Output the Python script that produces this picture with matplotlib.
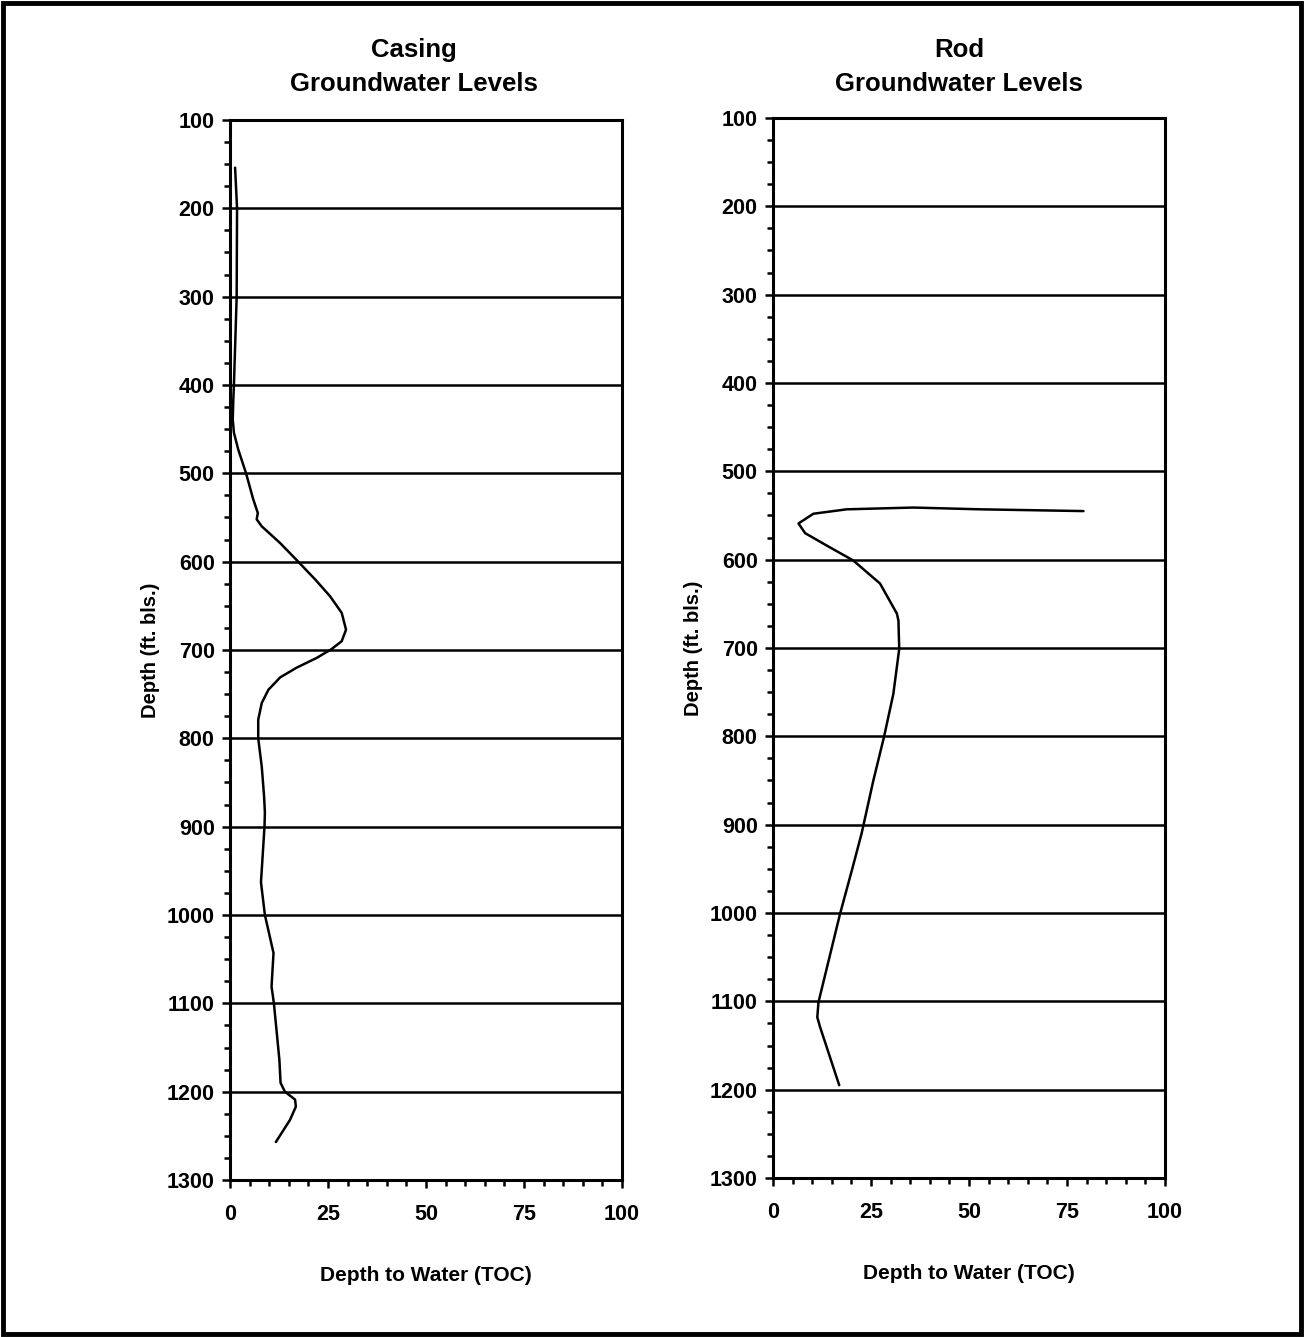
import matplotlib
matplotlib.use("Agg")
import matplotlib.pyplot as plt
from matplotlib.patches import Rectangle
from matplotlib.ticker import MultipleLocator

plt.rcParams["font.family"] = ["Liberation Sans", "DejaVu Sans"]
plt.rcParams["font.weight"] = "bold"

# Casing readings: depth to water (TOC) vs depth (ft. bls.)
casing_water = [1.3, 1.8, 1.7, 1.0, 0.85, 0.7, 1.0, 2.1, 4.1, 5.9, 7.1, 6.8, 8.1,
                12.8, 17.4, 21.7, 25.5, 28.5, 29.6, 28.5, 25.9, 22.1, 17.0, 12.8,
                9.8, 8.1, 7.2, 7.2, 8.1, 8.7, 8.9, 8.8, 7.9, 8.9, 11.1, 10.6,
                11.2, 12.6, 12.9, 14.0, 16.6, 16.8, 15.3, 11.7]
casing_depth = [154, 200, 300, 400, 416, 439, 454, 473, 500, 529, 545, 552, 560,
                579, 600, 620, 639, 658, 677, 690, 699, 709, 720, 731,
                745, 760, 779, 800, 832, 866, 884, 900, 963, 1000, 1043, 1081,
                1100, 1164, 1190, 1200, 1209, 1217, 1232, 1257]

# Rod readings
rod_water = [79.2, 52.8, 35.8, 18.8, 10.3, 6.5, 8.2, 13.7, 20.5, 27.3, 31.6,
             32.0, 32.2, 30.7, 28.3, 25.6, 22.6, 20.1, 17.1, 11.6, 11.3, 12.0, 16.9]
rod_depth = [545, 543, 541, 543, 548, 559, 570, 584, 601, 627, 661,
             669, 701, 752, 801, 850, 910, 952, 1001, 1101, 1118, 1129, 1195]

depth_ticks = list(range(100, 1301, 100))
water_ticks = [0, 25, 50, 75, 100]

W, H = 1304, 1337
fig = plt.figure(figsize=(W / 100, H / 100), dpi=100)

panels = [
    ("Casing\nGroundwater Levels", casing_water, casing_depth, 230, 1180, 414),
    ("Rod\nGroundwater Levels", rod_water, rod_depth, 773, 1178, 959),
]

for title, xs, ys, left_px, bottom_px, title_x in panels:
    ax = fig.add_axes([left_px / W, (H - bottom_px) / H, 392 / W, 1060 / H])
    ax.plot(xs, ys, color="black", lw=1.8, solid_joinstyle="round",
            solid_capstyle="round")
    ax.set_xlim(0, 100)
    ax.set_ylim(1300, 100)
    ax.set_yticks(depth_ticks)
    ax.set_xticks(water_ticks)
    ax.yaxis.set_minor_locator(MultipleLocator(25))
    ax.xaxis.set_minor_locator(MultipleLocator(5))
    ax.grid(axis="y", which="major", color="black", lw=1.8)
    ax.tick_params(which="major", direction="out", length=6, width=1.8,
                   labelsize=15.5, pad=5)
    ax.tick_params(axis="x", which="major", pad=11)
    ax.tick_params(which="minor", direction="out", length=4.5, width=1.8)
    for s in ax.spines.values():
        s.set_linewidth(2.2)
    for lab in ax.get_xticklabels() + ax.get_yticklabels():
        lab.set_fontweight("bold")
    ax.set_ylabel("Depth (ft. bls.)", fontsize=14.5, fontweight="bold", labelpad=5)
    ax.set_xlabel("Depth to Water (TOC)", fontsize=15, fontweight="bold", labelpad=30)
    fig.text(title_x / W, 1 - 67 / H, title, ha="center", va="center",
             fontsize=18.5, fontweight="bold", linespacing=1.5)

fig.patches.append(Rectangle((0.002, 0.002), 0.996, 0.996, transform=fig.transFigure,
                             fill=False, edgecolor="black", lw=3.5))

plt.savefig("out.png", dpi=100)
plt.close()
